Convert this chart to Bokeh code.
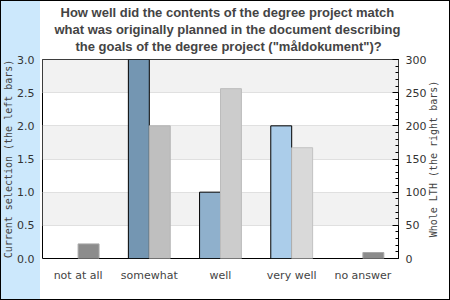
import math
from bokeh.plotting import figure
from bokeh.models import (Range1d, LinearAxis, FixedTicker, SingleIntervalTicker,
                          Title, ColumnDataSource, FactorRange, CustomJSTickFormatter)
from bokeh.transform import dodge
from bokeh.embed import file_html
from bokeh.resources import INLINE

categories = ["not at all", "somewhat", "well", "very well", "no answer"]
current_selection = [0, 3, 1, 2, 0]
whole_lth = [22, 200, 256, 167, 9]
left_colors = ["#5f7f99", "#7496b2", "#8fb0cc", "#abcdea", "#5f7f99"]
right_colors = ["#8c8c8c", "#bfbfbf", "#cccccc", "#d9d9d9", "#8c8c8c"]
right_line_colors = ["#a8a8a8", "#b4b4b4", "#bcbcbc", "#c2c2c2", "#a8a8a8"]
left_ticks = [0.0, 0.5, 1.0, 1.5, 2.0, 2.5, 3.0]
title_lines = [
    "How well did the contents of the degree project match",
    "what was originally planned in the document describing",
    'the goals of the degree project ("måldokument")?',
]
title_offsets = [18, 12, 33]
left_label = "Current selection (the left bars)"
right_label = "Whole LTH (the right bars)"

W, H = 450, 300
BL, BR, BT, BB = 40, 52, 59, 42
frame_h = H - BT - BB
right_max = 300

src = ColumnDataSource(dict(cat=categories, cur=current_selection, lth=whole_lth,
                            lc=left_colors, rc=right_colors, rl=right_line_colors))

p = figure(width=W, height=H, x_range=FactorRange(*categories, range_padding=0),
           y_range=Range1d(0, 3), output_backend="svg", toolbar_location=None,
           title=None,
           min_border_left=BL, min_border_right=BR, min_border_top=BT, min_border_bottom=BB)
p.extra_y_ranges = {"right": Range1d(0, right_max)}
p.border_fill_color = None
p.background_fill_color = "white"
p.outline_line_color = "black"
p.outline_line_width = 1
p.styles = {"background": "linear-gradient(to right, #cce8fc 0px, #cce8fc 40px, #ffffff 40px)",
            "outline": "1px solid black", "outline-offset": "-1px"}

p.xgrid.grid_line_color = None
p.ygrid.ticker = FixedTicker(ticks=left_ticks)
p.ygrid.grid_line_color = "#e0e0e0"
p.ygrid.band_fill_color = "#f2f2f2"
p.ygrid.band_fill_alpha = 1

p.vbar(x=dodge("cat", -0.147, range=p.x_range), top="cur", width=0.294, source=src,
       fill_color="lc", line_color="black", line_width=1)
p.vbar(x=dodge("cat", 0.147, range=p.x_range), top="lth", width=0.294, source=src,
       fill_color="rc", line_color="rl", line_width=1, y_range_name="right")

def no_ticks(ax):
    ax.axis_line_color = None
    ax.major_tick_line_color = None
    ax.minor_tick_line_color = None
    ax.major_tick_in = 0
    ax.major_tick_out = 0
    ax.minor_tick_in = 0
    ax.minor_tick_out = 0

la = p.yaxis[0]
la.ticker = FixedTicker(ticks=left_ticks)
la.formatter = CustomJSTickFormatter(code="return tick.toFixed(1);")
no_ticks(la)
la.major_label_standoff = 8
la.major_label_text_font = "DejaVu Sans"
la.major_label_text_font_size = "11px"
la.major_label_text_color = "#333333"
la.axis_label = left_label
la.axis_label_text_font = "DejaVu Sans Mono"
la.axis_label_text_font_size = "10px"
la.axis_label_text_font_style = "normal"
la.axis_label_text_color = "#444444"
la.axis_label_standoff = 0

ra = LinearAxis(y_range_name="right", ticker=SingleIntervalTicker(interval=50, num_minor_ticks=5))
ra.axis_line_color = None
ra.major_tick_in = 6
ra.major_tick_out = 0
ra.minor_tick_in = 3
ra.minor_tick_out = 0
ra.major_tick_line_color = "black"
ra.minor_tick_line_color = "black"
ra.major_label_standoff = 7
ra.major_label_text_font = "DejaVu Sans"
ra.major_label_text_font_size = "11px"
ra.major_label_text_color = "#333333"
p.add_layout(ra, "right")

# right-hand axis title: a rotated label (reads bottom-to-top) that starts at its
# anchor, so the anchor is placed half the label's length below the middle
label_px = 0.6021 * 10 * len(right_label)
anchor = right_max / 2 - (label_px / 2) * right_max / frame_h
rl = LinearAxis(y_range_name="right", ticker=FixedTicker(ticks=[anchor]))
no_ticks(rl)
rl.formatter = CustomJSTickFormatter(args=dict(txt=right_label), code="return txt;")
rl.major_label_orientation = math.pi / 2
rl.major_label_standoff = 4
rl.major_label_text_font = "DejaVu Sans Mono"
rl.major_label_text_font_size = "10px"
rl.major_label_text_color = "#444444"
p.add_layout(rl, "right")

xa = p.xaxis[0]
no_ticks(xa)
xa.major_label_standoff = 10
xa.major_label_text_font = "DejaVu Sans"
xa.major_label_text_font_size = "11px"
xa.major_label_text_color = "#444444"

# spacer between the title block and the plot area
p.add_layout(Title(text=" ", text_font_size="6px", standoff=-2.25), "above")
for line, off in reversed(list(zip(title_lines, title_offsets))):
    p.add_layout(Title(text=line, align="left", offset=off, standoff=-0.5,
                       text_font="Liberation Sans", text_font_style="bold",
                       text_font_size="13px", text_color="#444444"), "above")

open("out.html", "w").write(file_html(p, INLINE))
